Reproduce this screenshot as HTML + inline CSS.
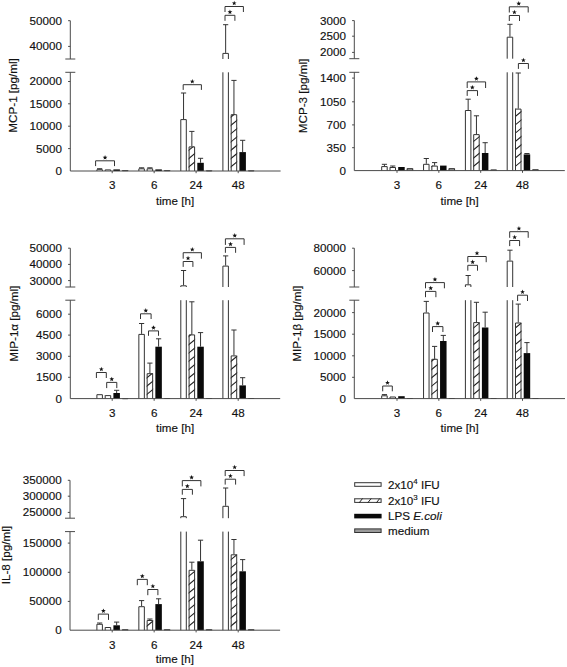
<!DOCTYPE html>
<html><head><meta charset="utf-8"><style>
html,body{margin:0;padding:0;background:#fff;}
svg{display:block;}
text{font-family:"Liberation Sans", sans-serif;fill:#111;stroke:#111;stroke-width:0.15px;}
</style></head><body>
<svg width="567" height="667" viewBox="0 0 567 667">
<defs><clipPath id="c1"><rect x="104.70" y="169.40" width="6.50" height="1.60"/></clipPath><clipPath id="c2"><rect x="146.65" y="168.30" width="6.50" height="2.70"/></clipPath><clipPath id="c3"><rect x="188.60" y="146.40" width="6.50" height="24.60"/></clipPath><clipPath id="c4"><rect x="230.70" y="114.20" width="6.50" height="56.80"/></clipPath><clipPath id="c5"><rect x="389.50" y="167.00" width="6.50" height="3.60"/></clipPath><clipPath id="c6"><rect x="431.35" y="165.60" width="6.50" height="5.00"/></clipPath><clipPath id="c7"><rect x="473.20" y="134.10" width="6.50" height="36.50"/></clipPath><clipPath id="c8"><rect x="515.00" y="108.60" width="6.50" height="62.00"/></clipPath><clipPath id="c9"><rect x="104.70" y="395.10" width="6.50" height="3.50"/></clipPath><clipPath id="c10"><rect x="146.65" y="373.20" width="6.50" height="25.40"/></clipPath><clipPath id="c11"><rect x="188.60" y="334.40" width="6.50" height="64.20"/></clipPath><clipPath id="c12"><rect x="230.70" y="355.40" width="6.50" height="43.20"/></clipPath><clipPath id="c13"><rect x="389.50" y="396.50" width="6.50" height="2.10"/></clipPath><clipPath id="c14"><rect x="431.35" y="358.80" width="6.50" height="39.80"/></clipPath><clipPath id="c15"><rect x="473.20" y="322.10" width="6.50" height="76.50"/></clipPath><clipPath id="c16"><rect x="515.00" y="322.50" width="6.50" height="76.10"/></clipPath><clipPath id="c17"><rect x="104.70" y="627.00" width="6.50" height="3.20"/></clipPath><clipPath id="c18"><rect x="146.65" y="620.00" width="6.50" height="10.20"/></clipPath><clipPath id="c19"><rect x="188.60" y="569.80" width="6.50" height="60.40"/></clipPath><clipPath id="c20"><rect x="230.70" y="554.30" width="6.50" height="75.90"/></clipPath><clipPath id="c21"><rect x="354.20" y="498.30" width="27.40" height="4.60"/></clipPath></defs>
<rect width="567" height="667" fill="#fff"/>
<rect x="96.40" y="169.20" width="6.50" height="1.80" fill="#fff"/>
<path d="M96.90 171.00V169.70H102.40V171.00" stroke="#333" stroke-width="1.0" fill="none"/>
<path d="M99.65 169.20V168.70M97.05 168.70H102.25" stroke="#333" stroke-width="1.0" fill="none"/>
<rect x="104.70" y="169.40" width="6.50" height="1.60" fill="#fff"/>
<path d="M103.70 167.82L112.20 160.85" stroke="#222" stroke-width="1.1" fill="none" clip-path="url(#c1)"/>
<path d="M105.20 171.00V169.90H110.70V171.00" stroke="#333" stroke-width="1.0" fill="none"/>
<rect x="113.40" y="169.40" width="6.50" height="1.60" fill="#0a0a0a"/>
<rect x="121.90" y="170.20" width="6.50" height="0.80" fill="#9a9a9a"/>
<path d="M122.40 171.00V170.70H127.90V171.00" stroke="#333" stroke-width="1.0" fill="none"/>
<rect x="138.35" y="168.30" width="6.50" height="2.70" fill="#fff"/>
<path d="M138.85 171.00V168.80H144.35V171.00" stroke="#333" stroke-width="1.0" fill="none"/>
<path d="M141.60 168.30V167.80M139.00 167.80H144.20" stroke="#333" stroke-width="1.0" fill="none"/>
<rect x="146.65" y="168.30" width="6.50" height="2.70" fill="#fff"/>
<path d="M145.65 167.82L154.15 160.85" stroke="#222" stroke-width="1.1" fill="none" clip-path="url(#c2)"/>
<path d="M147.15 171.00V168.80H152.65V171.00" stroke="#333" stroke-width="1.0" fill="none"/>
<path d="M149.90 168.30V167.80M147.30 167.80H152.50" stroke="#333" stroke-width="1.0" fill="none"/>
<rect x="155.35" y="169.40" width="6.50" height="1.60" fill="#0a0a0a"/>
<rect x="163.85" y="170.20" width="6.50" height="0.80" fill="#9a9a9a"/>
<path d="M164.35 171.00V170.70H169.85V171.00" stroke="#333" stroke-width="1.0" fill="none"/>
<rect x="180.30" y="119.10" width="6.50" height="51.90" fill="#fff"/>
<path d="M180.80 171.00V119.60H186.30V171.00" stroke="#333" stroke-width="1.0" fill="none"/>
<path d="M183.55 119.10V93.00M180.95 93.00H186.15" stroke="#333" stroke-width="1.0" fill="none"/>
<rect x="188.60" y="146.40" width="6.50" height="24.60" fill="#fff"/>
<path d="M187.60 167.82L196.10 160.85M187.60 159.52L196.10 152.55M187.60 151.22L196.10 144.25" stroke="#222" stroke-width="1.1" fill="none" clip-path="url(#c3)"/>
<path d="M189.10 171.00V146.90H194.60V171.00" stroke="#333" stroke-width="1.0" fill="none"/>
<path d="M191.85 146.40V131.40M189.25 131.40H194.45" stroke="#333" stroke-width="1.0" fill="none"/>
<rect x="197.30" y="162.80" width="6.50" height="8.20" fill="#0a0a0a"/>
<path d="M200.55 162.80V158.30M197.95 158.30H203.15" stroke="#333" stroke-width="1.0" fill="none"/>
<rect x="205.80" y="170.40" width="6.50" height="0.60" fill="#9a9a9a"/>
<path d="M206.30 171.00V170.90H211.80V171.00" stroke="#333" stroke-width="1.0" fill="none"/>
<rect x="222.40" y="72.30" width="6.50" height="98.70" fill="#fff"/>
<path d="M222.90 72.30V171.00M228.40 72.30V171.00" stroke="#333" stroke-width="1.0" fill="none"/>
<rect x="222.40" y="52.90" width="6.50" height="6.10" fill="#fff"/>
<path d="M222.90 59.00V53.40H228.40V59.00" stroke="#333" stroke-width="1.0" fill="none"/>
<path d="M225.65 52.90V24.70M223.05 24.70H228.25" stroke="#333" stroke-width="1.0" fill="none"/>
<rect x="230.70" y="114.20" width="6.50" height="56.80" fill="#fff"/>
<path d="M229.70 167.82L238.20 160.85M229.70 159.52L238.20 152.55M229.70 151.22L238.20 144.25M229.70 142.92L238.20 135.95M229.70 134.62L238.20 127.65M229.70 126.32L238.20 119.35M229.70 118.02L238.20 111.05" stroke="#222" stroke-width="1.1" fill="none" clip-path="url(#c4)"/>
<path d="M231.20 171.00V114.70H236.70V171.00" stroke="#333" stroke-width="1.0" fill="none"/>
<path d="M233.95 114.20V80.40M231.35 80.40H236.55" stroke="#333" stroke-width="1.0" fill="none"/>
<rect x="239.40" y="152.10" width="6.50" height="18.90" fill="#0a0a0a"/>
<path d="M242.65 152.10V140.30M240.05 140.30H245.25" stroke="#333" stroke-width="1.0" fill="none"/>
<rect x="247.90" y="170.40" width="6.50" height="0.60" fill="#9a9a9a"/>
<path d="M248.40 171.00V170.90H253.90V171.00" stroke="#333" stroke-width="1.0" fill="none"/>
<line x1="70.30" y1="20.70" x2="70.30" y2="59.00" stroke="#4a4a4a" stroke-width="1.0"/>
<line x1="70.30" y1="72.30" x2="70.30" y2="171.00" stroke="#4a4a4a" stroke-width="1.0"/>
<line x1="65.30" y1="59.00" x2="75.30" y2="59.00" stroke="#4a4a4a" stroke-width="1.0"/>
<line x1="65.30" y1="72.30" x2="75.30" y2="72.30" stroke="#4a4a4a" stroke-width="1.0"/>
<line x1="70.30" y1="171.00" x2="280.60" y2="171.00" stroke="#4a4a4a" stroke-width="1.0"/>
<line x1="68.10" y1="20.70" x2="70.30" y2="20.70" stroke="#4a4a4a" stroke-width="1.0"/>
<text transform="translate(62.00,24.60) scale(1.06,1)" text-anchor="end" font-size="11" >50000</text>
<line x1="68.10" y1="46.40" x2="70.30" y2="46.40" stroke="#4a4a4a" stroke-width="1.0"/>
<text transform="translate(62.00,50.30) scale(1.06,1)" text-anchor="end" font-size="11" >40000</text>
<text transform="translate(62.00,174.90) scale(1.06,1)" text-anchor="end" font-size="11" >0</text>
<line x1="68.10" y1="148.60" x2="70.30" y2="148.60" stroke="#4a4a4a" stroke-width="1.0"/>
<text transform="translate(62.00,152.50) scale(1.06,1)" text-anchor="end" font-size="11" >5000</text>
<line x1="68.10" y1="126.20" x2="70.30" y2="126.20" stroke="#4a4a4a" stroke-width="1.0"/>
<text transform="translate(62.00,130.10) scale(1.06,1)" text-anchor="end" font-size="11" >10000</text>
<line x1="68.10" y1="103.80" x2="70.30" y2="103.80" stroke="#4a4a4a" stroke-width="1.0"/>
<text transform="translate(62.00,107.70) scale(1.06,1)" text-anchor="end" font-size="11" >15000</text>
<line x1="68.10" y1="81.50" x2="70.30" y2="81.50" stroke="#4a4a4a" stroke-width="1.0"/>
<text transform="translate(62.00,85.40) scale(1.06,1)" text-anchor="end" font-size="11" >20000</text>
<line x1="112.20" y1="171.00" x2="112.20" y2="173.20" stroke="#4a4a4a" stroke-width="1.0"/>
<text transform="translate(112.20,189.40) scale(1.06,1)" text-anchor="middle" font-size="11" >3</text>
<line x1="154.15" y1="171.00" x2="154.15" y2="173.20" stroke="#4a4a4a" stroke-width="1.0"/>
<text transform="translate(154.15,189.40) scale(1.06,1)" text-anchor="middle" font-size="11" >6</text>
<line x1="196.10" y1="171.00" x2="196.10" y2="173.20" stroke="#4a4a4a" stroke-width="1.0"/>
<text transform="translate(196.10,189.40) scale(1.06,1)" text-anchor="middle" font-size="11" >24</text>
<line x1="238.20" y1="171.00" x2="238.20" y2="173.20" stroke="#4a4a4a" stroke-width="1.0"/>
<text transform="translate(238.20,189.40) scale(1.06,1)" text-anchor="middle" font-size="11" >48</text>
<text transform="translate(175.10,204.80) scale(1.06,1)" text-anchor="middle" font-size="11" >time [h]</text>
<text transform="translate(16.60,95.40) rotate(-90) scale(1.06,1)" text-anchor="middle" font-size="11">MCP-1 [pg/ml]</text>
<path d="M95.60 166.10V160.80H114.50V166.10" stroke="#333" stroke-width="1.0" fill="none"/>
<polygon points="105.05,155.10 105.67,156.75 107.43,156.83 106.05,157.92 106.52,159.62 105.05,158.65 103.58,159.62 104.05,157.92 102.67,156.83 104.43,156.75" fill="#111"/>
<path d="M183.20 89.90V84.70H201.40V89.90" stroke="#333" stroke-width="1.0" fill="none"/>
<polygon points="192.30,79.00 192.92,80.65 194.68,80.73 193.30,81.82 193.77,83.52 192.30,82.55 190.83,83.52 191.30,81.82 189.92,80.73 191.68,80.65" fill="#111"/>
<path d="M225.00 20.80V15.30H234.90V20.80" stroke="#333" stroke-width="1.0" fill="none"/>
<polygon points="229.95,9.60 230.57,11.25 232.33,11.33 230.95,12.42 231.42,14.12 229.95,13.15 228.48,14.12 228.95,12.42 227.57,11.33 229.33,11.25" fill="#111"/>
<path d="M225.00 12.00V6.50H243.40V12.00" stroke="#333" stroke-width="1.0" fill="none"/>
<polygon points="234.20,0.80 234.82,2.45 236.58,2.53 235.20,3.62 235.67,5.32 234.20,4.35 232.73,5.32 233.20,3.62 231.82,2.53 233.58,2.45" fill="#111"/>
<rect x="381.20" y="166.10" width="6.50" height="4.50" fill="#fff"/>
<path d="M381.70 170.60V166.60H387.20V170.60" stroke="#333" stroke-width="1.0" fill="none"/>
<path d="M384.45 166.10V164.30M381.85 164.30H387.05" stroke="#333" stroke-width="1.0" fill="none"/>
<rect x="389.50" y="167.00" width="6.50" height="3.60" fill="#fff"/>
<path d="M388.50 167.42L397.00 160.45" stroke="#222" stroke-width="1.1" fill="none" clip-path="url(#c5)"/>
<path d="M390.00 170.60V167.50H395.50V170.60" stroke="#333" stroke-width="1.0" fill="none"/>
<path d="M392.75 167.00V166.00M390.15 166.00H395.35" stroke="#333" stroke-width="1.0" fill="none"/>
<rect x="398.20" y="167.00" width="6.50" height="3.60" fill="#0a0a0a"/>
<rect x="406.70" y="168.20" width="6.50" height="2.40" fill="#9a9a9a"/>
<path d="M407.20 170.60V168.70H412.70V170.60" stroke="#333" stroke-width="1.0" fill="none"/>
<rect x="423.05" y="163.80" width="6.50" height="6.80" fill="#fff"/>
<path d="M423.55 170.60V164.30H429.05V170.60" stroke="#333" stroke-width="1.0" fill="none"/>
<path d="M426.30 163.80V158.50M423.70 158.50H428.90" stroke="#333" stroke-width="1.0" fill="none"/>
<rect x="431.35" y="165.60" width="6.50" height="5.00" fill="#fff"/>
<path d="M430.35 167.42L438.85 160.45" stroke="#222" stroke-width="1.1" fill="none" clip-path="url(#c6)"/>
<path d="M431.85 170.60V166.10H437.35V170.60" stroke="#333" stroke-width="1.0" fill="none"/>
<path d="M434.60 165.60V162.60M432.00 162.60H437.20" stroke="#333" stroke-width="1.0" fill="none"/>
<rect x="440.05" y="165.60" width="6.50" height="5.00" fill="#0a0a0a"/>
<rect x="448.55" y="168.20" width="6.50" height="2.40" fill="#9a9a9a"/>
<path d="M449.05 170.60V168.70H454.55V170.60" stroke="#333" stroke-width="1.0" fill="none"/>
<rect x="464.90" y="110.00" width="6.50" height="60.60" fill="#fff"/>
<path d="M465.40 170.60V110.50H470.90V170.60" stroke="#333" stroke-width="1.0" fill="none"/>
<path d="M468.15 110.00V99.20M465.55 99.20H470.75" stroke="#333" stroke-width="1.0" fill="none"/>
<rect x="473.20" y="134.10" width="6.50" height="36.50" fill="#fff"/>
<path d="M472.20 167.42L480.70 160.45M472.20 159.12L480.70 152.15M472.20 150.82L480.70 143.85M472.20 142.52L480.70 135.55M472.20 134.22L480.70 127.25" stroke="#222" stroke-width="1.1" fill="none" clip-path="url(#c7)"/>
<path d="M473.70 170.60V134.60H479.20V170.60" stroke="#333" stroke-width="1.0" fill="none"/>
<path d="M476.45 134.10V115.80M473.85 115.80H479.05" stroke="#333" stroke-width="1.0" fill="none"/>
<rect x="481.90" y="153.00" width="6.50" height="17.60" fill="#0a0a0a"/>
<path d="M485.15 153.00V142.70M482.55 142.70H487.75" stroke="#333" stroke-width="1.0" fill="none"/>
<rect x="490.40" y="169.50" width="6.50" height="1.10" fill="#9a9a9a"/>
<path d="M490.90 170.60V170.00H496.40V170.60" stroke="#333" stroke-width="1.0" fill="none"/>
<rect x="506.70" y="72.30" width="6.50" height="98.30" fill="#fff"/>
<path d="M507.20 72.30V170.60M512.70 72.30V170.60" stroke="#333" stroke-width="1.0" fill="none"/>
<rect x="506.70" y="36.70" width="6.50" height="22.00" fill="#fff"/>
<path d="M507.20 58.70V37.20H512.70V58.70" stroke="#333" stroke-width="1.0" fill="none"/>
<path d="M509.95 36.70V24.30M507.35 24.30H512.55" stroke="#333" stroke-width="1.0" fill="none"/>
<rect x="515.00" y="108.60" width="6.50" height="62.00" fill="#fff"/>
<path d="M514.00 167.42L522.50 160.45M514.00 159.12L522.50 152.15M514.00 150.82L522.50 143.85M514.00 142.52L522.50 135.55M514.00 134.22L522.50 127.25M514.00 125.92L522.50 118.95M514.00 117.62L522.50 110.65M514.00 109.32L522.50 102.35" stroke="#222" stroke-width="1.1" fill="none" clip-path="url(#c8)"/>
<path d="M515.50 170.60V109.10H521.00V170.60" stroke="#333" stroke-width="1.0" fill="none"/>
<path d="M518.25 108.60V73.00M515.65 73.00H520.85" stroke="#333" stroke-width="1.0" fill="none"/>
<rect x="523.70" y="154.40" width="6.50" height="16.20" fill="#0a0a0a"/>
<path d="M526.95 154.40V153.50M524.35 153.50H529.55" stroke="#333" stroke-width="1.0" fill="none"/>
<rect x="532.20" y="169.30" width="6.50" height="1.30" fill="#9a9a9a"/>
<path d="M532.70 170.60V169.80H538.20V170.60" stroke="#333" stroke-width="1.0" fill="none"/>
<line x1="354.30" y1="20.60" x2="354.30" y2="58.70" stroke="#4a4a4a" stroke-width="1.0"/>
<line x1="354.30" y1="72.30" x2="354.30" y2="170.60" stroke="#4a4a4a" stroke-width="1.0"/>
<line x1="349.30" y1="58.70" x2="359.30" y2="58.70" stroke="#4a4a4a" stroke-width="1.0"/>
<line x1="349.30" y1="72.30" x2="359.30" y2="72.30" stroke="#4a4a4a" stroke-width="1.0"/>
<line x1="354.30" y1="170.60" x2="564.80" y2="170.60" stroke="#4a4a4a" stroke-width="1.0"/>
<line x1="352.10" y1="20.60" x2="354.30" y2="20.60" stroke="#4a4a4a" stroke-width="1.0"/>
<text transform="translate(346.00,24.50) scale(1.06,1)" text-anchor="end" font-size="11" >3000</text>
<line x1="352.10" y1="36.20" x2="354.30" y2="36.20" stroke="#4a4a4a" stroke-width="1.0"/>
<text transform="translate(346.00,40.10) scale(1.06,1)" text-anchor="end" font-size="11" >2500</text>
<line x1="352.10" y1="52.40" x2="354.30" y2="52.40" stroke="#4a4a4a" stroke-width="1.0"/>
<text transform="translate(346.00,56.30) scale(1.06,1)" text-anchor="end" font-size="11" >2000</text>
<text transform="translate(346.00,174.50) scale(1.06,1)" text-anchor="end" font-size="11" >0</text>
<line x1="352.10" y1="147.70" x2="354.30" y2="147.70" stroke="#4a4a4a" stroke-width="1.0"/>
<text transform="translate(346.00,151.60) scale(1.06,1)" text-anchor="end" font-size="11" >350</text>
<line x1="352.10" y1="124.90" x2="354.30" y2="124.90" stroke="#4a4a4a" stroke-width="1.0"/>
<text transform="translate(346.00,128.80) scale(1.06,1)" text-anchor="end" font-size="11" >700</text>
<line x1="352.10" y1="101.80" x2="354.30" y2="101.80" stroke="#4a4a4a" stroke-width="1.0"/>
<text transform="translate(346.00,105.70) scale(1.06,1)" text-anchor="end" font-size="11" >1050</text>
<line x1="352.10" y1="78.10" x2="354.30" y2="78.10" stroke="#4a4a4a" stroke-width="1.0"/>
<text transform="translate(346.00,82.00) scale(1.06,1)" text-anchor="end" font-size="11" >1400</text>
<line x1="397.00" y1="170.60" x2="397.00" y2="172.80" stroke="#4a4a4a" stroke-width="1.0"/>
<text transform="translate(397.00,189.20) scale(1.06,1)" text-anchor="middle" font-size="11" >3</text>
<line x1="438.85" y1="170.60" x2="438.85" y2="172.80" stroke="#4a4a4a" stroke-width="1.0"/>
<text transform="translate(438.85,189.20) scale(1.06,1)" text-anchor="middle" font-size="11" >6</text>
<line x1="480.70" y1="170.60" x2="480.70" y2="172.80" stroke="#4a4a4a" stroke-width="1.0"/>
<text transform="translate(480.70,189.20) scale(1.06,1)" text-anchor="middle" font-size="11" >24</text>
<line x1="522.50" y1="170.60" x2="522.50" y2="172.80" stroke="#4a4a4a" stroke-width="1.0"/>
<text transform="translate(522.50,189.20) scale(1.06,1)" text-anchor="middle" font-size="11" >48</text>
<text transform="translate(459.70,205.00) scale(1.06,1)" text-anchor="middle" font-size="11" >time [h]</text>
<text transform="translate(307.10,96.00) rotate(-90) scale(1.06,1)" text-anchor="middle" font-size="11">MCP-3 [pg/ml]</text>
<path d="M467.20 95.90V90.60H477.50V95.90" stroke="#333" stroke-width="1.0" fill="none"/>
<polygon points="472.35,84.90 472.97,86.55 474.73,86.63 473.35,87.72 473.82,89.42 472.35,88.45 470.88,89.42 471.35,87.72 469.97,86.63 471.73,86.55" fill="#111"/>
<path d="M467.20 88.00V81.90H485.60V88.00" stroke="#333" stroke-width="1.0" fill="none"/>
<polygon points="476.40,76.20 477.02,77.85 478.78,77.93 477.40,79.02 477.87,80.72 476.40,79.75 474.93,80.72 475.40,79.02 474.02,77.93 475.78,77.85" fill="#111"/>
<path d="M509.30 21.00V15.50H519.50V21.00" stroke="#333" stroke-width="1.0" fill="none"/>
<polygon points="514.40,9.80 515.02,11.45 516.78,11.53 515.40,12.62 515.87,14.32 514.40,13.35 512.93,14.32 513.40,12.62 512.02,11.53 513.78,11.45" fill="#111"/>
<path d="M509.30 12.50V6.80H528.20V12.50" stroke="#333" stroke-width="1.0" fill="none"/>
<polygon points="518.75,1.10 519.37,2.75 521.13,2.83 519.75,3.92 520.22,5.62 518.75,4.65 517.28,5.62 517.75,3.92 516.37,2.83 518.13,2.75" fill="#111"/>
<path d="M518.40 68.90V63.50H528.40V68.90" stroke="#333" stroke-width="1.0" fill="none"/>
<polygon points="523.40,57.80 524.02,59.45 525.78,59.53 524.40,60.62 524.87,62.32 523.40,61.35 521.93,62.32 522.40,60.62 521.02,59.53 522.78,59.45" fill="#111"/>
<rect x="96.40" y="394.20" width="6.50" height="4.40" fill="#fff"/>
<path d="M96.90 398.60V394.70H102.40V398.60" stroke="#333" stroke-width="1.0" fill="none"/>
<rect x="104.70" y="395.10" width="6.50" height="3.50" fill="#fff"/>
<path d="M103.70 395.42L112.20 388.45" stroke="#222" stroke-width="1.1" fill="none" clip-path="url(#c9)"/>
<path d="M105.20 398.60V395.60H110.70V398.60" stroke="#333" stroke-width="1.0" fill="none"/>
<rect x="113.40" y="393.00" width="6.50" height="5.60" fill="#0a0a0a"/>
<path d="M116.65 393.00V390.30M114.05 390.30H119.25" stroke="#333" stroke-width="1.0" fill="none"/>
<rect x="121.90" y="398.20" width="6.50" height="0.40" fill="#9a9a9a"/>
<path d="M122.40 398.60V398.70H127.90V398.60" stroke="#333" stroke-width="1.0" fill="none"/>
<rect x="138.35" y="333.90" width="6.50" height="64.70" fill="#fff"/>
<path d="M138.85 398.60V334.40H144.35V398.60" stroke="#333" stroke-width="1.0" fill="none"/>
<path d="M141.60 333.90V323.50M139.00 323.50H144.20" stroke="#333" stroke-width="1.0" fill="none"/>
<rect x="146.65" y="373.20" width="6.50" height="25.40" fill="#fff"/>
<path d="M145.65 395.42L154.15 388.45M145.65 387.12L154.15 380.15M145.65 378.82L154.15 371.85M145.65 370.52L154.15 363.55" stroke="#222" stroke-width="1.1" fill="none" clip-path="url(#c10)"/>
<path d="M147.15 398.60V373.70H152.65V398.60" stroke="#333" stroke-width="1.0" fill="none"/>
<path d="M149.90 373.20V363.10M147.30 363.10H152.50" stroke="#333" stroke-width="1.0" fill="none"/>
<rect x="155.35" y="346.70" width="6.50" height="51.90" fill="#0a0a0a"/>
<path d="M158.60 346.70V338.80M156.00 338.80H161.20" stroke="#333" stroke-width="1.0" fill="none"/>
<rect x="163.85" y="398.00" width="6.50" height="0.60" fill="#9a9a9a"/>
<path d="M164.35 398.60V398.50H169.85V398.60" stroke="#333" stroke-width="1.0" fill="none"/>
<rect x="180.30" y="300.20" width="6.50" height="98.40" fill="#fff"/>
<path d="M180.80 300.20V398.60M186.30 300.20V398.60" stroke="#333" stroke-width="1.0" fill="none"/>
<rect x="180.30" y="285.30" width="6.50" height="1.70" fill="#fff"/>
<path d="M180.80 287.00V285.80H186.30V287.00" stroke="#333" stroke-width="1.0" fill="none"/>
<path d="M183.55 285.30V270.50M180.95 270.50H186.15" stroke="#333" stroke-width="1.0" fill="none"/>
<rect x="188.60" y="334.40" width="6.50" height="64.20" fill="#fff"/>
<path d="M187.60 395.42L196.10 388.45M187.60 387.12L196.10 380.15M187.60 378.82L196.10 371.85M187.60 370.52L196.10 363.55M187.60 362.22L196.10 355.25M187.60 353.92L196.10 346.95M187.60 345.62L196.10 338.65M187.60 337.32L196.10 330.35" stroke="#222" stroke-width="1.1" fill="none" clip-path="url(#c11)"/>
<path d="M189.10 398.60V334.90H194.60V398.60" stroke="#333" stroke-width="1.0" fill="none"/>
<path d="M191.85 334.40V301.80M189.25 301.80H194.45" stroke="#333" stroke-width="1.0" fill="none"/>
<rect x="197.30" y="346.70" width="6.50" height="51.90" fill="#0a0a0a"/>
<path d="M200.55 346.70V332.60M197.95 332.60H203.15" stroke="#333" stroke-width="1.0" fill="none"/>
<rect x="205.80" y="398.00" width="6.50" height="0.60" fill="#9a9a9a"/>
<path d="M206.30 398.60V398.50H211.80V398.60" stroke="#333" stroke-width="1.0" fill="none"/>
<rect x="222.40" y="300.20" width="6.50" height="98.40" fill="#fff"/>
<path d="M222.90 300.20V398.60M228.40 300.20V398.60" stroke="#333" stroke-width="1.0" fill="none"/>
<rect x="222.40" y="265.60" width="6.50" height="21.40" fill="#fff"/>
<path d="M222.90 287.00V266.10H228.40V287.00" stroke="#333" stroke-width="1.0" fill="none"/>
<path d="M225.65 265.60V255.90M223.05 255.90H228.25" stroke="#333" stroke-width="1.0" fill="none"/>
<rect x="230.70" y="355.40" width="6.50" height="43.20" fill="#fff"/>
<path d="M229.70 395.42L238.20 388.45M229.70 387.12L238.20 380.15M229.70 378.82L238.20 371.85M229.70 370.52L238.20 363.55M229.70 362.22L238.20 355.25M229.70 353.92L238.20 346.95" stroke="#222" stroke-width="1.1" fill="none" clip-path="url(#c12)"/>
<path d="M231.20 398.60V355.90H236.70V398.60" stroke="#333" stroke-width="1.0" fill="none"/>
<path d="M233.95 355.40V330.00M231.35 330.00H236.55" stroke="#333" stroke-width="1.0" fill="none"/>
<rect x="239.40" y="385.40" width="6.50" height="13.20" fill="#0a0a0a"/>
<path d="M242.65 385.40V377.70M240.05 377.70H245.25" stroke="#333" stroke-width="1.0" fill="none"/>
<rect x="247.90" y="398.00" width="6.50" height="0.60" fill="#9a9a9a"/>
<path d="M248.40 398.60V398.50H253.90V398.60" stroke="#333" stroke-width="1.0" fill="none"/>
<line x1="70.30" y1="248.20" x2="70.30" y2="287.00" stroke="#4a4a4a" stroke-width="1.0"/>
<line x1="70.30" y1="300.20" x2="70.30" y2="398.60" stroke="#4a4a4a" stroke-width="1.0"/>
<line x1="65.30" y1="287.00" x2="75.30" y2="287.00" stroke="#4a4a4a" stroke-width="1.0"/>
<line x1="65.30" y1="300.20" x2="75.30" y2="300.20" stroke="#4a4a4a" stroke-width="1.0"/>
<line x1="70.30" y1="398.60" x2="280.20" y2="398.60" stroke="#4a4a4a" stroke-width="1.0"/>
<line x1="68.10" y1="248.20" x2="70.30" y2="248.20" stroke="#4a4a4a" stroke-width="1.0"/>
<text transform="translate(62.00,252.10) scale(1.06,1)" text-anchor="end" font-size="11" >50000</text>
<line x1="68.10" y1="264.40" x2="70.30" y2="264.40" stroke="#4a4a4a" stroke-width="1.0"/>
<text transform="translate(62.00,268.30) scale(1.06,1)" text-anchor="end" font-size="11" >40000</text>
<line x1="68.10" y1="280.60" x2="70.30" y2="280.60" stroke="#4a4a4a" stroke-width="1.0"/>
<text transform="translate(62.00,284.50) scale(1.06,1)" text-anchor="end" font-size="11" >30000</text>
<text transform="translate(62.00,402.50) scale(1.06,1)" text-anchor="end" font-size="11" >0</text>
<line x1="68.10" y1="377.30" x2="70.30" y2="377.30" stroke="#4a4a4a" stroke-width="1.0"/>
<text transform="translate(62.00,381.20) scale(1.06,1)" text-anchor="end" font-size="11" >1500</text>
<line x1="68.10" y1="356.30" x2="70.30" y2="356.30" stroke="#4a4a4a" stroke-width="1.0"/>
<text transform="translate(62.00,360.20) scale(1.06,1)" text-anchor="end" font-size="11" >3000</text>
<line x1="68.10" y1="335.10" x2="70.30" y2="335.10" stroke="#4a4a4a" stroke-width="1.0"/>
<text transform="translate(62.00,339.00) scale(1.06,1)" text-anchor="end" font-size="11" >4500</text>
<line x1="68.10" y1="314.20" x2="70.30" y2="314.20" stroke="#4a4a4a" stroke-width="1.0"/>
<text transform="translate(62.00,318.10) scale(1.06,1)" text-anchor="end" font-size="11" >6000</text>
<line x1="112.20" y1="398.60" x2="112.20" y2="400.80" stroke="#4a4a4a" stroke-width="1.0"/>
<text transform="translate(112.20,417.00) scale(1.06,1)" text-anchor="middle" font-size="11" >3</text>
<line x1="154.15" y1="398.60" x2="154.15" y2="400.80" stroke="#4a4a4a" stroke-width="1.0"/>
<text transform="translate(154.15,417.00) scale(1.06,1)" text-anchor="middle" font-size="11" >6</text>
<line x1="196.10" y1="398.60" x2="196.10" y2="400.80" stroke="#4a4a4a" stroke-width="1.0"/>
<text transform="translate(196.10,417.00) scale(1.06,1)" text-anchor="middle" font-size="11" >24</text>
<line x1="238.20" y1="398.60" x2="238.20" y2="400.80" stroke="#4a4a4a" stroke-width="1.0"/>
<text transform="translate(238.20,417.00) scale(1.06,1)" text-anchor="middle" font-size="11" >48</text>
<text transform="translate(175.10,431.90) scale(1.06,1)" text-anchor="middle" font-size="11" >time [h]</text>
<text transform="translate(17.50,323.70) rotate(-90) scale(1.06,1)" text-anchor="middle" font-size="11">MIP-1α [pg/ml]</text>
<path d="M96.40 378.00V372.50H106.30V378.00" stroke="#333" stroke-width="1.0" fill="none"/>
<polygon points="101.35,366.80 101.97,368.45 103.73,368.53 102.35,369.62 102.82,371.32 101.35,370.35 99.88,371.32 100.35,369.62 98.97,368.53 100.73,368.45" fill="#111"/>
<path d="M106.70 388.10V382.40H116.80V388.10" stroke="#333" stroke-width="1.0" fill="none"/>
<polygon points="111.75,376.70 112.37,378.35 114.13,378.43 112.75,379.52 113.22,381.22 111.75,380.25 110.28,381.22 110.75,379.52 109.37,378.43 111.13,378.35" fill="#111"/>
<path d="M140.50 319.00V313.80H151.10V319.00" stroke="#333" stroke-width="1.0" fill="none"/>
<polygon points="145.80,308.10 146.42,309.75 148.18,309.83 146.80,310.92 147.27,312.62 145.80,311.65 144.33,312.62 144.80,310.92 143.42,309.83 145.18,309.75" fill="#111"/>
<path d="M148.50 335.80V330.90H158.50V335.80" stroke="#333" stroke-width="1.0" fill="none"/>
<polygon points="153.50,325.20 154.12,326.85 155.88,326.93 154.50,328.02 154.97,329.72 153.50,328.75 152.03,329.72 152.50,328.02 151.12,326.93 152.88,326.85" fill="#111"/>
<path d="M183.20 266.90V261.50H192.90V266.90" stroke="#333" stroke-width="1.0" fill="none"/>
<polygon points="188.05,255.80 188.67,257.45 190.43,257.53 189.05,258.62 189.52,260.32 188.05,259.35 186.58,260.32 187.05,258.62 185.67,257.53 187.43,257.45" fill="#111"/>
<path d="M183.20 258.70V252.70H201.40V258.70" stroke="#333" stroke-width="1.0" fill="none"/>
<polygon points="192.30,247.00 192.92,248.65 194.68,248.73 193.30,249.82 193.77,251.52 192.30,250.55 190.83,251.52 191.30,249.82 189.92,248.73 191.68,248.65" fill="#111"/>
<path d="M225.40 252.80V247.40H235.60V252.80" stroke="#333" stroke-width="1.0" fill="none"/>
<polygon points="230.50,241.70 231.12,243.35 232.88,243.43 231.50,244.52 231.97,246.22 230.50,245.25 229.03,246.22 229.50,244.52 228.12,243.43 229.88,243.35" fill="#111"/>
<path d="M225.40 244.90V238.80H244.10V244.90" stroke="#333" stroke-width="1.0" fill="none"/>
<polygon points="234.75,233.10 235.37,234.75 237.13,234.83 235.75,235.92 236.22,237.62 234.75,236.65 233.28,237.62 233.75,235.92 232.37,234.83 234.13,234.75" fill="#111"/>
<rect x="381.20" y="395.30" width="6.50" height="3.30" fill="#fff"/>
<path d="M381.70 398.60V395.80H387.20V398.60" stroke="#333" stroke-width="1.0" fill="none"/>
<path d="M384.45 395.30V394.60M381.85 394.60H387.05" stroke="#333" stroke-width="1.0" fill="none"/>
<rect x="389.50" y="396.50" width="6.50" height="2.10" fill="#fff"/>
<path d="M388.50 395.42L397.00 388.45" stroke="#222" stroke-width="1.1" fill="none" clip-path="url(#c13)"/>
<path d="M390.00 398.60V397.00H395.50V398.60" stroke="#333" stroke-width="1.0" fill="none"/>
<rect x="398.20" y="396.20" width="6.50" height="2.40" fill="#0a0a0a"/>
<rect x="406.70" y="398.00" width="6.50" height="0.60" fill="#9a9a9a"/>
<path d="M407.20 398.60V398.50H412.70V398.60" stroke="#333" stroke-width="1.0" fill="none"/>
<rect x="423.05" y="312.50" width="6.50" height="86.10" fill="#fff"/>
<path d="M423.55 398.60V313.00H429.05V398.60" stroke="#333" stroke-width="1.0" fill="none"/>
<path d="M426.30 312.50V301.40M423.70 301.40H428.90" stroke="#333" stroke-width="1.0" fill="none"/>
<rect x="431.35" y="358.80" width="6.50" height="39.80" fill="#fff"/>
<path d="M430.35 395.42L438.85 388.45M430.35 387.12L438.85 380.15M430.35 378.82L438.85 371.85M430.35 370.52L438.85 363.55M430.35 362.22L438.85 355.25" stroke="#222" stroke-width="1.1" fill="none" clip-path="url(#c14)"/>
<path d="M431.85 398.60V359.30H437.35V398.60" stroke="#333" stroke-width="1.0" fill="none"/>
<path d="M434.60 358.80V346.40M432.00 346.40H437.20" stroke="#333" stroke-width="1.0" fill="none"/>
<rect x="440.05" y="341.00" width="6.50" height="57.60" fill="#0a0a0a"/>
<path d="M443.30 341.00V335.40M440.70 335.40H445.90" stroke="#333" stroke-width="1.0" fill="none"/>
<rect x="448.55" y="398.00" width="6.50" height="0.60" fill="#9a9a9a"/>
<path d="M449.05 398.60V398.50H454.55V398.60" stroke="#333" stroke-width="1.0" fill="none"/>
<rect x="464.90" y="300.20" width="6.50" height="98.40" fill="#fff"/>
<path d="M465.40 300.20V398.60M470.90 300.20V398.60" stroke="#333" stroke-width="1.0" fill="none"/>
<rect x="464.90" y="284.30" width="6.50" height="2.70" fill="#fff"/>
<path d="M465.40 287.00V284.80H470.90V287.00" stroke="#333" stroke-width="1.0" fill="none"/>
<path d="M468.15 284.30V275.50M465.55 275.50H470.75" stroke="#333" stroke-width="1.0" fill="none"/>
<rect x="473.20" y="322.10" width="6.50" height="76.50" fill="#fff"/>
<path d="M472.20 395.42L480.70 388.45M472.20 387.12L480.70 380.15M472.20 378.82L480.70 371.85M472.20 370.52L480.70 363.55M472.20 362.22L480.70 355.25M472.20 353.92L480.70 346.95M472.20 345.62L480.70 338.65M472.20 337.32L480.70 330.35M472.20 329.02L480.70 322.05M472.20 320.72L480.70 313.75" stroke="#222" stroke-width="1.1" fill="none" clip-path="url(#c15)"/>
<path d="M473.70 398.60V322.60H479.20V398.60" stroke="#333" stroke-width="1.0" fill="none"/>
<path d="M476.45 322.10V302.30M473.85 302.30H479.05" stroke="#333" stroke-width="1.0" fill="none"/>
<rect x="481.90" y="327.50" width="6.50" height="71.10" fill="#0a0a0a"/>
<path d="M485.15 327.50V312.20M482.55 312.20H487.75" stroke="#333" stroke-width="1.0" fill="none"/>
<rect x="490.40" y="398.00" width="6.50" height="0.60" fill="#9a9a9a"/>
<path d="M490.90 398.60V398.50H496.40V398.60" stroke="#333" stroke-width="1.0" fill="none"/>
<rect x="506.70" y="300.20" width="6.50" height="98.40" fill="#fff"/>
<path d="M507.20 300.20V398.60M512.70 300.20V398.60" stroke="#333" stroke-width="1.0" fill="none"/>
<rect x="506.70" y="260.60" width="6.50" height="26.40" fill="#fff"/>
<path d="M507.20 287.00V261.10H512.70V287.00" stroke="#333" stroke-width="1.0" fill="none"/>
<path d="M509.95 260.60V250.20M507.35 250.20H512.55" stroke="#333" stroke-width="1.0" fill="none"/>
<rect x="515.00" y="322.50" width="6.50" height="76.10" fill="#fff"/>
<path d="M514.00 395.42L522.50 388.45M514.00 387.12L522.50 380.15M514.00 378.82L522.50 371.85M514.00 370.52L522.50 363.55M514.00 362.22L522.50 355.25M514.00 353.92L522.50 346.95M514.00 345.62L522.50 338.65M514.00 337.32L522.50 330.35M514.00 329.02L522.50 322.05M514.00 320.72L522.50 313.75" stroke="#222" stroke-width="1.1" fill="none" clip-path="url(#c16)"/>
<path d="M515.50 398.60V323.00H521.00V398.60" stroke="#333" stroke-width="1.0" fill="none"/>
<path d="M518.25 322.50V304.10M515.65 304.10H520.85" stroke="#333" stroke-width="1.0" fill="none"/>
<rect x="523.70" y="353.10" width="6.50" height="45.50" fill="#0a0a0a"/>
<path d="M526.95 353.10V342.60M524.35 342.60H529.55" stroke="#333" stroke-width="1.0" fill="none"/>
<rect x="532.20" y="398.00" width="6.50" height="0.60" fill="#9a9a9a"/>
<path d="M532.70 398.60V398.50H538.20V398.60" stroke="#333" stroke-width="1.0" fill="none"/>
<line x1="354.30" y1="248.20" x2="354.30" y2="287.00" stroke="#4a4a4a" stroke-width="1.0"/>
<line x1="354.30" y1="300.20" x2="354.30" y2="398.60" stroke="#4a4a4a" stroke-width="1.0"/>
<line x1="349.30" y1="287.00" x2="359.30" y2="287.00" stroke="#4a4a4a" stroke-width="1.0"/>
<line x1="349.30" y1="300.20" x2="359.30" y2="300.20" stroke="#4a4a4a" stroke-width="1.0"/>
<line x1="354.30" y1="398.60" x2="565.00" y2="398.60" stroke="#4a4a4a" stroke-width="1.0"/>
<line x1="352.10" y1="248.20" x2="354.30" y2="248.20" stroke="#4a4a4a" stroke-width="1.0"/>
<text transform="translate(346.00,252.10) scale(1.06,1)" text-anchor="end" font-size="11" >80000</text>
<line x1="352.10" y1="270.60" x2="354.30" y2="270.60" stroke="#4a4a4a" stroke-width="1.0"/>
<text transform="translate(346.00,274.50) scale(1.06,1)" text-anchor="end" font-size="11" >60000</text>
<text transform="translate(346.00,402.50) scale(1.06,1)" text-anchor="end" font-size="11" >0</text>
<line x1="352.10" y1="377.30" x2="354.30" y2="377.30" stroke="#4a4a4a" stroke-width="1.0"/>
<text transform="translate(346.00,381.20) scale(1.06,1)" text-anchor="end" font-size="11" >5000</text>
<line x1="352.10" y1="355.80" x2="354.30" y2="355.80" stroke="#4a4a4a" stroke-width="1.0"/>
<text transform="translate(346.00,359.70) scale(1.06,1)" text-anchor="end" font-size="11" >10000</text>
<line x1="352.10" y1="334.20" x2="354.30" y2="334.20" stroke="#4a4a4a" stroke-width="1.0"/>
<text transform="translate(346.00,338.10) scale(1.06,1)" text-anchor="end" font-size="11" >15000</text>
<line x1="352.10" y1="312.60" x2="354.30" y2="312.60" stroke="#4a4a4a" stroke-width="1.0"/>
<text transform="translate(346.00,316.50) scale(1.06,1)" text-anchor="end" font-size="11" >20000</text>
<line x1="397.00" y1="398.60" x2="397.00" y2="400.80" stroke="#4a4a4a" stroke-width="1.0"/>
<text transform="translate(397.00,417.00) scale(1.06,1)" text-anchor="middle" font-size="11" >3</text>
<line x1="438.85" y1="398.60" x2="438.85" y2="400.80" stroke="#4a4a4a" stroke-width="1.0"/>
<text transform="translate(438.85,417.00) scale(1.06,1)" text-anchor="middle" font-size="11" >6</text>
<line x1="480.70" y1="398.60" x2="480.70" y2="400.80" stroke="#4a4a4a" stroke-width="1.0"/>
<text transform="translate(480.70,417.00) scale(1.06,1)" text-anchor="middle" font-size="11" >24</text>
<line x1="522.50" y1="398.60" x2="522.50" y2="400.80" stroke="#4a4a4a" stroke-width="1.0"/>
<text transform="translate(522.50,417.00) scale(1.06,1)" text-anchor="middle" font-size="11" >48</text>
<text transform="translate(459.70,431.90) scale(1.06,1)" text-anchor="middle" font-size="11" >time [h]</text>
<text transform="translate(301.00,323.70) rotate(-90) scale(1.06,1)" text-anchor="middle" font-size="11">MIP-1β [pg/ml]</text>
<path d="M382.70 391.30V386.00H392.30V391.30" stroke="#333" stroke-width="1.0" fill="none"/>
<polygon points="387.50,380.30 388.12,381.95 389.88,382.03 388.50,383.12 388.97,384.82 387.50,383.85 386.03,384.82 386.50,383.12 385.12,382.03 386.88,381.95" fill="#111"/>
<path d="M425.50 297.20V291.40H435.90V297.20" stroke="#333" stroke-width="1.0" fill="none"/>
<polygon points="430.70,285.70 431.32,287.35 433.08,287.43 431.70,288.52 432.17,290.22 430.70,289.25 429.23,290.22 429.70,288.52 428.32,287.43 430.08,287.35" fill="#111"/>
<path d="M425.50 288.30V282.60H444.40V288.30" stroke="#333" stroke-width="1.0" fill="none"/>
<polygon points="434.95,276.90 435.57,278.55 437.33,278.63 435.95,279.72 436.42,281.42 434.95,280.45 433.48,281.42 433.95,279.72 432.57,278.63 434.33,278.55" fill="#111"/>
<path d="M432.50 332.00V326.60H442.90V332.00" stroke="#333" stroke-width="1.0" fill="none"/>
<polygon points="437.70,320.90 438.32,322.55 440.08,322.63 438.70,323.72 439.17,325.42 437.70,324.45 436.23,325.42 436.70,323.72 435.32,322.63 437.08,322.55" fill="#111"/>
<path d="M467.80 270.70V265.30H477.50V270.70" stroke="#333" stroke-width="1.0" fill="none"/>
<polygon points="472.65,259.60 473.27,261.25 475.03,261.33 473.65,262.42 474.12,264.12 472.65,263.15 471.18,264.12 471.65,262.42 470.27,261.33 472.03,261.25" fill="#111"/>
<path d="M467.80 262.20V256.50H486.20V262.20" stroke="#333" stroke-width="1.0" fill="none"/>
<polygon points="477.00,250.80 477.62,252.45 479.38,252.53 478.00,253.62 478.47,255.32 477.00,254.35 475.53,255.32 476.00,253.62 474.62,252.53 476.38,252.45" fill="#111"/>
<path d="M509.70 246.10V240.50H519.60V246.10" stroke="#333" stroke-width="1.0" fill="none"/>
<polygon points="514.65,234.80 515.27,236.45 517.03,236.53 515.65,237.62 516.12,239.32 514.65,238.35 513.18,239.32 513.65,237.62 512.27,236.53 514.03,236.45" fill="#111"/>
<path d="M509.70 237.80V231.70H528.20V237.80" stroke="#333" stroke-width="1.0" fill="none"/>
<polygon points="518.95,226.00 519.57,227.65 521.33,227.73 519.95,228.82 520.42,230.52 518.95,229.55 517.48,230.52 517.95,228.82 516.57,227.73 518.33,227.65" fill="#111"/>
<path d="M517.60 301.00V295.20H527.50V301.00" stroke="#333" stroke-width="1.0" fill="none"/>
<polygon points="522.55,289.50 523.17,291.15 524.93,291.23 523.55,292.32 524.02,294.02 522.55,293.05 521.08,294.02 521.55,292.32 520.17,291.23 521.93,291.15" fill="#111"/>
<rect x="96.40" y="623.80" width="6.50" height="6.40" fill="#fff"/>
<path d="M96.90 630.20V624.30H102.40V630.20" stroke="#333" stroke-width="1.0" fill="none"/>
<path d="M99.65 623.80V623.00M97.05 623.00H102.25" stroke="#333" stroke-width="1.0" fill="none"/>
<rect x="104.70" y="627.00" width="6.50" height="3.20" fill="#fff"/>
<path d="M103.70 627.02L112.20 620.05" stroke="#222" stroke-width="1.1" fill="none" clip-path="url(#c17)"/>
<path d="M105.20 630.20V627.50H110.70V630.20" stroke="#333" stroke-width="1.0" fill="none"/>
<rect x="113.40" y="625.30" width="6.50" height="4.90" fill="#0a0a0a"/>
<path d="M116.65 625.30V622.10M114.05 622.10H119.25" stroke="#333" stroke-width="1.0" fill="none"/>
<rect x="121.90" y="629.30" width="6.50" height="0.90" fill="#9a9a9a"/>
<path d="M122.40 630.20V629.80H127.90V630.20" stroke="#333" stroke-width="1.0" fill="none"/>
<rect x="138.35" y="606.20" width="6.50" height="24.00" fill="#fff"/>
<path d="M138.85 630.20V606.70H144.35V630.20" stroke="#333" stroke-width="1.0" fill="none"/>
<path d="M141.60 606.20V600.60M139.00 600.60H144.20" stroke="#333" stroke-width="1.0" fill="none"/>
<rect x="146.65" y="620.00" width="6.50" height="10.20" fill="#fff"/>
<path d="M145.65 627.02L154.15 620.05M145.65 618.72L154.15 611.75" stroke="#222" stroke-width="1.1" fill="none" clip-path="url(#c18)"/>
<path d="M147.15 630.20V620.50H152.65V630.20" stroke="#333" stroke-width="1.0" fill="none"/>
<path d="M149.90 620.00V619.00M147.30 619.00H152.50" stroke="#333" stroke-width="1.0" fill="none"/>
<rect x="155.35" y="604.10" width="6.50" height="26.10" fill="#0a0a0a"/>
<path d="M158.60 604.10V598.80M156.00 598.80H161.20" stroke="#333" stroke-width="1.0" fill="none"/>
<rect x="163.85" y="629.30" width="6.50" height="0.90" fill="#9a9a9a"/>
<path d="M164.35 630.20V629.80H169.85V630.20" stroke="#333" stroke-width="1.0" fill="none"/>
<rect x="180.30" y="531.60" width="6.50" height="98.60" fill="#fff"/>
<path d="M180.80 531.60V630.20M186.30 531.60V630.20" stroke="#333" stroke-width="1.0" fill="none"/>
<rect x="180.30" y="516.20" width="6.50" height="2.00" fill="#fff"/>
<path d="M180.80 518.20V516.70H186.30V518.20" stroke="#333" stroke-width="1.0" fill="none"/>
<path d="M183.55 516.20V498.60M180.95 498.60H186.15" stroke="#333" stroke-width="1.0" fill="none"/>
<rect x="188.60" y="569.80" width="6.50" height="60.40" fill="#fff"/>
<path d="M187.60 627.02L196.10 620.05M187.60 618.72L196.10 611.75M187.60 610.42L196.10 603.45M187.60 602.12L196.10 595.15M187.60 593.82L196.10 586.85M187.60 585.52L196.10 578.55M187.60 577.22L196.10 570.25M187.60 568.92L196.10 561.95" stroke="#222" stroke-width="1.1" fill="none" clip-path="url(#c19)"/>
<path d="M189.10 630.20V570.30H194.60V630.20" stroke="#333" stroke-width="1.0" fill="none"/>
<path d="M191.85 569.80V562.20M189.25 562.20H194.45" stroke="#333" stroke-width="1.0" fill="none"/>
<rect x="197.30" y="561.30" width="6.50" height="68.90" fill="#0a0a0a"/>
<path d="M200.55 561.30V540.20M197.95 540.20H203.15" stroke="#333" stroke-width="1.0" fill="none"/>
<rect x="205.80" y="629.30" width="6.50" height="0.90" fill="#9a9a9a"/>
<path d="M206.30 630.20V629.80H211.80V630.20" stroke="#333" stroke-width="1.0" fill="none"/>
<rect x="222.40" y="531.60" width="6.50" height="98.60" fill="#fff"/>
<path d="M222.90 531.60V630.20M228.40 531.60V630.20" stroke="#333" stroke-width="1.0" fill="none"/>
<rect x="222.40" y="505.80" width="6.50" height="12.40" fill="#fff"/>
<path d="M222.90 518.20V506.30H228.40V518.20" stroke="#333" stroke-width="1.0" fill="none"/>
<path d="M225.65 505.80V488.00M223.05 488.00H228.25" stroke="#333" stroke-width="1.0" fill="none"/>
<rect x="230.70" y="554.30" width="6.50" height="75.90" fill="#fff"/>
<path d="M229.70 627.02L238.20 620.05M229.70 618.72L238.20 611.75M229.70 610.42L238.20 603.45M229.70 602.12L238.20 595.15M229.70 593.82L238.20 586.85M229.70 585.52L238.20 578.55M229.70 577.22L238.20 570.25M229.70 568.92L238.20 561.95M229.70 560.62L238.20 553.65M229.70 552.32L238.20 545.35" stroke="#222" stroke-width="1.1" fill="none" clip-path="url(#c20)"/>
<path d="M231.20 630.20V554.80H236.70V630.20" stroke="#333" stroke-width="1.0" fill="none"/>
<path d="M233.95 554.30V539.50M231.35 539.50H236.55" stroke="#333" stroke-width="1.0" fill="none"/>
<rect x="239.40" y="571.30" width="6.50" height="58.90" fill="#0a0a0a"/>
<path d="M242.65 571.30V559.60M240.05 559.60H245.25" stroke="#333" stroke-width="1.0" fill="none"/>
<rect x="247.90" y="629.30" width="6.50" height="0.90" fill="#9a9a9a"/>
<path d="M248.40 630.20V629.80H253.90V630.20" stroke="#333" stroke-width="1.0" fill="none"/>
<line x1="70.00" y1="480.30" x2="70.00" y2="518.20" stroke="#4a4a4a" stroke-width="1.0"/>
<line x1="70.00" y1="531.60" x2="70.00" y2="630.20" stroke="#4a4a4a" stroke-width="1.0"/>
<line x1="65.00" y1="518.20" x2="75.00" y2="518.20" stroke="#4a4a4a" stroke-width="1.0"/>
<line x1="65.00" y1="531.60" x2="75.00" y2="531.60" stroke="#4a4a4a" stroke-width="1.0"/>
<line x1="70.00" y1="630.20" x2="280.10" y2="630.20" stroke="#4a4a4a" stroke-width="1.0"/>
<line x1="67.80" y1="480.30" x2="70.00" y2="480.30" stroke="#4a4a4a" stroke-width="1.0"/>
<text transform="translate(61.70,484.20) scale(1.06,1)" text-anchor="end" font-size="11" >350000</text>
<line x1="67.80" y1="496.20" x2="70.00" y2="496.20" stroke="#4a4a4a" stroke-width="1.0"/>
<text transform="translate(61.70,500.10) scale(1.06,1)" text-anchor="end" font-size="11" >300000</text>
<line x1="67.80" y1="512.40" x2="70.00" y2="512.40" stroke="#4a4a4a" stroke-width="1.0"/>
<text transform="translate(61.70,516.30) scale(1.06,1)" text-anchor="end" font-size="11" >250000</text>
<text transform="translate(61.70,634.10) scale(1.06,1)" text-anchor="end" font-size="11" >0</text>
<line x1="67.80" y1="601.40" x2="70.00" y2="601.40" stroke="#4a4a4a" stroke-width="1.0"/>
<text transform="translate(61.70,605.30) scale(1.06,1)" text-anchor="end" font-size="11" >50000</text>
<line x1="67.80" y1="572.30" x2="70.00" y2="572.30" stroke="#4a4a4a" stroke-width="1.0"/>
<text transform="translate(61.70,576.20) scale(1.06,1)" text-anchor="end" font-size="11" >100000</text>
<line x1="67.80" y1="543.10" x2="70.00" y2="543.10" stroke="#4a4a4a" stroke-width="1.0"/>
<text transform="translate(61.70,547.00) scale(1.06,1)" text-anchor="end" font-size="11" >150000</text>
<line x1="112.20" y1="630.20" x2="112.20" y2="632.40" stroke="#4a4a4a" stroke-width="1.0"/>
<text transform="translate(112.20,648.60) scale(1.06,1)" text-anchor="middle" font-size="11" >3</text>
<line x1="154.15" y1="630.20" x2="154.15" y2="632.40" stroke="#4a4a4a" stroke-width="1.0"/>
<text transform="translate(154.15,648.60) scale(1.06,1)" text-anchor="middle" font-size="11" >6</text>
<line x1="196.10" y1="630.20" x2="196.10" y2="632.40" stroke="#4a4a4a" stroke-width="1.0"/>
<text transform="translate(196.10,648.60) scale(1.06,1)" text-anchor="middle" font-size="11" >24</text>
<line x1="238.20" y1="630.20" x2="238.20" y2="632.40" stroke="#4a4a4a" stroke-width="1.0"/>
<text transform="translate(238.20,648.60) scale(1.06,1)" text-anchor="middle" font-size="11" >48</text>
<text transform="translate(174.80,662.90) scale(1.06,1)" text-anchor="middle" font-size="11" >time [h]</text>
<text transform="translate(10.00,555.10) rotate(-90) scale(1.06,1)" text-anchor="middle" font-size="11">IL-8 [pg/ml]</text>
<path d="M98.30 619.90V614.10H108.50V619.90" stroke="#333" stroke-width="1.0" fill="none"/>
<polygon points="103.40,608.40 104.02,610.05 105.78,610.13 104.40,611.22 104.87,612.92 103.40,611.95 101.93,612.92 102.40,611.22 101.02,610.13 102.78,610.05" fill="#111"/>
<path d="M137.30 585.20V579.40H147.30V585.20" stroke="#333" stroke-width="1.0" fill="none"/>
<polygon points="142.30,573.70 142.92,575.35 144.68,575.43 143.30,576.52 143.77,578.22 142.30,577.25 140.83,578.22 141.30,576.52 139.92,575.43 141.68,575.35" fill="#111"/>
<path d="M147.80 595.20V589.50H157.90V595.20" stroke="#333" stroke-width="1.0" fill="none"/>
<polygon points="152.85,583.80 153.47,585.45 155.23,585.53 153.85,586.62 154.32,588.32 152.85,587.35 151.38,588.32 151.85,586.62 150.47,585.53 152.23,585.45" fill="#111"/>
<path d="M182.30 494.70V489.40H192.40V494.70" stroke="#333" stroke-width="1.0" fill="none"/>
<polygon points="187.35,483.70 187.97,485.35 189.73,485.43 188.35,486.52 188.82,488.22 187.35,487.25 185.88,488.22 186.35,486.52 184.97,485.43 186.73,485.35" fill="#111"/>
<path d="M182.30 486.40V480.60H200.90V486.40" stroke="#333" stroke-width="1.0" fill="none"/>
<polygon points="191.60,474.90 192.22,476.55 193.98,476.63 192.60,477.72 193.07,479.42 191.60,478.45 190.13,479.42 190.60,477.72 189.22,476.63 190.98,476.55" fill="#111"/>
<path d="M225.20 484.60V479.20H235.60V484.60" stroke="#333" stroke-width="1.0" fill="none"/>
<polygon points="230.40,473.50 231.02,475.15 232.78,475.23 231.40,476.32 231.87,478.02 230.40,477.05 228.93,478.02 229.40,476.32 228.02,475.23 229.78,475.15" fill="#111"/>
<path d="M225.20 476.10V470.50H244.10V476.10" stroke="#333" stroke-width="1.0" fill="none"/>
<polygon points="234.65,464.80 235.27,466.45 237.03,466.53 235.65,467.62 236.12,469.32 234.65,468.35 233.18,469.32 233.65,467.62 232.27,466.53 234.03,466.45" fill="#111"/>
<rect x="354.70" y="482.70" width="26.40" height="3.60" fill="#fff" stroke="#333" stroke-width="1"/>
<text transform="translate(388.00,489.20) scale(1.06,1)" text-anchor="start" font-size="11" >2x10<tspan dy="-5" font-size="7.5">4</tspan><tspan dy="5"> IFU</tspan></text>
<rect x="354.70" y="498.80" width="26.40" height="3.60" fill="#fff" stroke="#333" stroke-width="1"/>
<path d="M350.50 502.90L354.10 498.30M359.10 502.90L362.70 498.30M367.70 502.90L371.30 498.30M376.30 502.90L379.90 498.30" stroke="#222" stroke-width="1" clip-path="url(#c21)"/>
<text transform="translate(388.00,505.20) scale(1.06,1)" text-anchor="start" font-size="11" >2x10<tspan dy="-5" font-size="7.5">3</tspan><tspan dy="5"> IFU</tspan></text>
<rect x="354.20" y="513.80" width="27.40" height="4.60" fill="#0a0a0a"/>
<text transform="translate(388.00,520.20) scale(1.06,1)" text-anchor="start" font-size="11" >LPS <tspan font-style="italic">E.coli</tspan></text>
<rect x="354.70" y="528.90" width="26.40" height="3.60" fill="#9a9a9a" stroke="#333" stroke-width="1"/>
<text transform="translate(388.00,534.50) scale(1.06,1)" text-anchor="start" font-size="11" >medium</text>
</svg>
</body></html>
